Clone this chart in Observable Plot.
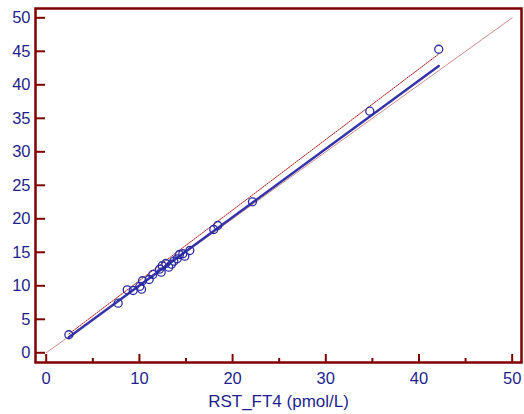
<!DOCTYPE html>
<html>
<head>
<meta charset="utf-8">
<script src="https://cdn.jsdelivr.net/npm/d3@7"></script>
<script src="https://cdn.jsdelivr.net/npm/@observablehq/plot@0.6"></script>
<style>
  html, body { margin: 0; padding: 0; background: #fff; }
  #chart svg { display: block; font-family: Arial, "Liberation Sans", sans-serif; }
</style>
</head>
<body>
<div id="chart"></div>
<script>
// Measured points: x = RST_FT4 (pmol/L), y = comparison method
const pointX = [2.43, 7.72, 8.69, 9.33, 10.04, 10.23, 10.33, 11.05, 11.44, 12.16, 12.34, 12.45, 12.83, 13.15, 13.44, 13.69, 14.06, 14.30, 14.66, 14.87, 15.41, 17.98, 18.41, 22.13, 34.72, 42.12];
const pointY = [2.69, 7.40, 9.40, 9.30, 9.90, 9.49, 10.75, 10.94, 11.69, 12.48, 12.03, 12.99, 13.33, 12.78, 13.22, 13.67, 14.03, 14.67, 14.78, 14.42, 15.27, 18.40, 19.00, 22.54, 36.06, 45.31];

// Line endpoints
const identityX = [0, 50];
const identityY = [0, 50];
const fitX = [2.43, 42.12];
const fitSolidY = [2.33, 42.8];   // blue regression line
const fitDottedY = [2.80, 44.6];  // red dotted line

// Axis ticks
const xMajorTicks = [0, 10, 20, 30, 40, 50];
const xMinorTicks = [5, 15, 25, 35, 45];
const yTicks = [0, 5, 10, 15, 20, 25, 30, 35, 40, 45, 50];
const xLabel = "RST_FT4 (pmol/L)";

const points = pointX.map((x, i) => ({x, y: pointY[i]}));
const identity = identityX.map((x, i) => ({x, y: identityY[i]}));
const fitSolid = fitX.map((x, i) => ({x, y: fitSolidY[i]}));
const fitDotted = fitX.map((x, i) => ({x, y: fitDottedY[i]}));

const W = 524, H = 414;
const mL = 35, mR = 3, mT = 8, mB = 52;
const frameW = W - mL - mR, frameH = H - mT - mB;
const axisRed = "#800000";
const textBlue = "#1f1f8c";
const pointBlue = "#2a2aa0";

const chart = Plot.plot({
  width: W,
  height: H,
  marginLeft: mL,
  marginRight: mR,
  marginTop: mT,
  marginBottom: mB,
  style: {background: "#fff", fontFamily: "Arial, 'Liberation Sans', sans-serif"},
  x: {domain: [-1.15, 51.0]},
  y: {domain: [-1.45, 51.39]},
  marks: [
    Plot.line(identity, {x: "x", y: "y", stroke: "#d08a8a", strokeWidth: 1}),
    Plot.line(fitDotted, {x: "x", y: "y", stroke: "#b01818", strokeWidth: 1, strokeDasharray: "1.5,1.2"}),
    Plot.line(fitSolid, {x: "x", y: "y", stroke: "#3434a8", strokeWidth: 2.5}),
    Plot.dot(points, {x: "x", y: "y", r: 4, stroke: pointBlue, strokeWidth: 1.3, fill: "none"}),
    // inward ticks
    Plot.ruleX(xMajorTicks, {stroke: axisRed, strokeWidth: 2, insetTop: frameH - 8}),
    Plot.ruleX(xMinorTicks, {stroke: axisRed, strokeWidth: 2, insetTop: frameH - 4}),
    Plot.ruleY(yTicks, {stroke: axisRed, strokeWidth: 2, insetRight: frameW - 10}),
    Plot.frame({stroke: axisRed, strokeWidth: 2.5}),
    Plot.axisX({ticks: xMajorTicks, tickSize: 0, tickPadding: 10, fill: textBlue, fontSize: 16.5, label: null}),
    Plot.axisY({ticks: yTicks, tickSize: 0, tickPadding: 5, fill: textBlue, fontSize: 16.5, label: null}),
    Plot.text([xLabel], {text: d => d, frameAnchor: "bottom", dy: 39, fill: textBlue, fontSize: 17, lineAnchor: "middle"})
  ]
});
document.getElementById("chart").appendChild(chart);
</script>
</body>
</html>
